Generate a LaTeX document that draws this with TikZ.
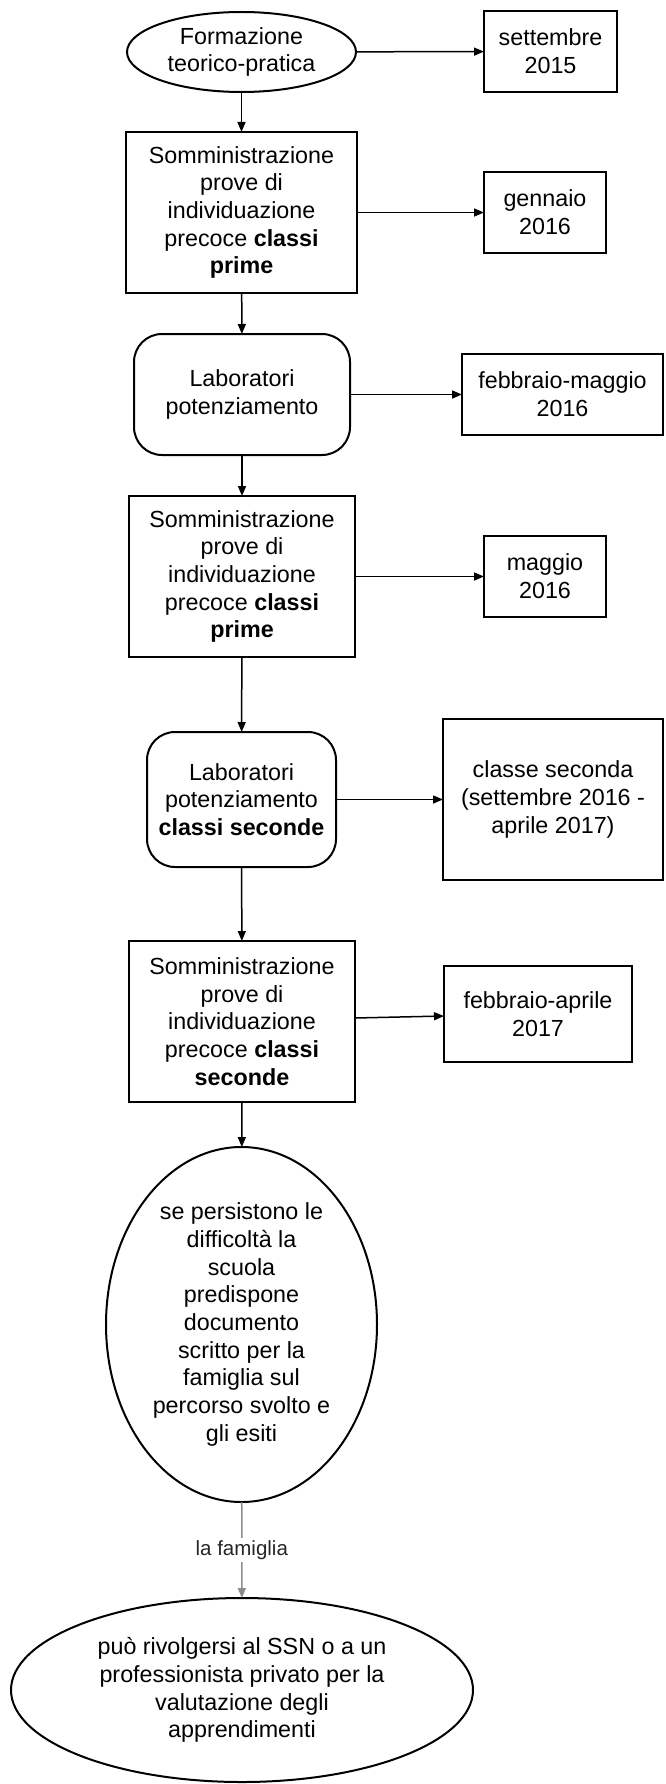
\documentclass[tikz,border=0pt]{standalone}
\usepackage{fontspec}
\setmainfont{Liberation Sans}
\usetikzlibrary{shapes.geometric,arrows.meta}
\begin{document}
\begin{tikzpicture}[x=1pt,y=-1pt,
  every node/.style={font=\fontsize{23.3}{27.7}\selectfont, align=center, inner sep=0pt, outer sep=0pt, line width=2pt},
  rectn/.style={draw, rectangle},
  roundn/.style={draw, rectangle, rounded corners=28pt},
  ellin/.style={draw, ellipse},
  conn/.style={line width=1.5pt, -{Triangle[length=10pt,width=8pt]}},
  grayconn/.style={conn, draw=black!45},
  lbl/.style={fill=white, inner sep=2pt, font=\fontsize{20.5}{24}\selectfont, text=black!85}
]
\fill[white] (0,0) rectangle (665,1784);
\useasboundingbox (0,0) rectangle (665,1784);

\node[ellin, minimum width=229pt, minimum height=80pt] (e1) at (241.5,52) {Formazione\\teorico-pratica};
\node[rectn, minimum width=133pt, minimum height=81pt] (d1) at (550.5,51.5) {settembre\\2015};

\node[rectn, minimum width=231pt, minimum height=161pt] (b2) at (241.5,212.5) {Somministrazione\\prove di\\individuazione\\precoce \textbf{classi}\\\textbf{prime}};
\node[rectn, minimum width=122pt, minimum height=81pt] (d2) at (545,212.5) {gennaio\\2016};

\node[roundn, minimum width=216pt, minimum height=121pt] (r3) at (242,394.5) {Laboratori\\potenziamento};
\node[rectn, minimum width=201pt, minimum height=81pt] (d3) at (562.5,394.5) {febbraio-maggio\\2016};

\node[rectn, minimum width=226pt, minimum height=161pt] (b4) at (242,576.5) {Somministrazione\\prove di\\individuazione\\precoce \textbf{classi}\\\textbf{prime}};
\node[rectn, minimum width=122pt, minimum height=81pt] (d4) at (545,576.5) {maggio\\2016};

\node[roundn, minimum width=189pt, minimum height=135pt] (r5) at (241.5,799.5) {Laboratori\\potenziamento\\\textbf{classi seconde}};
\node[rectn, minimum width=220pt, minimum height=161pt] (d5) at (553,799.5) {classe seconda\\(settembre 2016 -\\aprile 2017)};

\node[rectn, minimum width=226pt, minimum height=161pt] (b6) at (242,1021.5) {Somministrazione\\prove di\\individuazione\\precoce \textbf{classi}\\\textbf{seconde}};
\node[rectn, minimum width=188pt, minimum height=96pt] (d6) at (538,1014) {febbraio-aprile\\2017};

\node[ellin, minimum width=271pt, minimum height=355pt] (e7) at (241.5,1324.5) {se persistono le\\difficoltà la\\scuola\\predispone\\documento\\scritto per la\\famiglia sul\\percorso svolto e\\gli esiti};

\node[ellin, minimum width=462pt, minimum height=184pt] (e8) at (242,1690) {può rivolgersi al SSN o a un\\professionista privato per la\\valutazione degli\\apprendimenti};

\draw[conn] (e1) -- (d1);
\draw[conn] (b2) -- (d2);
\draw[conn] (r3) -- (d3);
\draw[conn] (b4) -- (d4);
\draw[conn] (r5) -- (d5);
\draw[conn] ([yshift=3.5pt]b6.east) -- ([yshift=-2pt]d6.west);

\draw[conn] (e1) -- (b2);
\draw[conn] (b2) -- (r3);
\draw[conn] (r3) -- (b4);
\draw[conn] (b4) -- (r5);
\draw[conn] (r5) -- (b6);
\draw[conn] (b6) -- (e7);
\draw[grayconn] (e7) -- node[lbl] {la famiglia} (e8);
\end{tikzpicture}
\end{document}
